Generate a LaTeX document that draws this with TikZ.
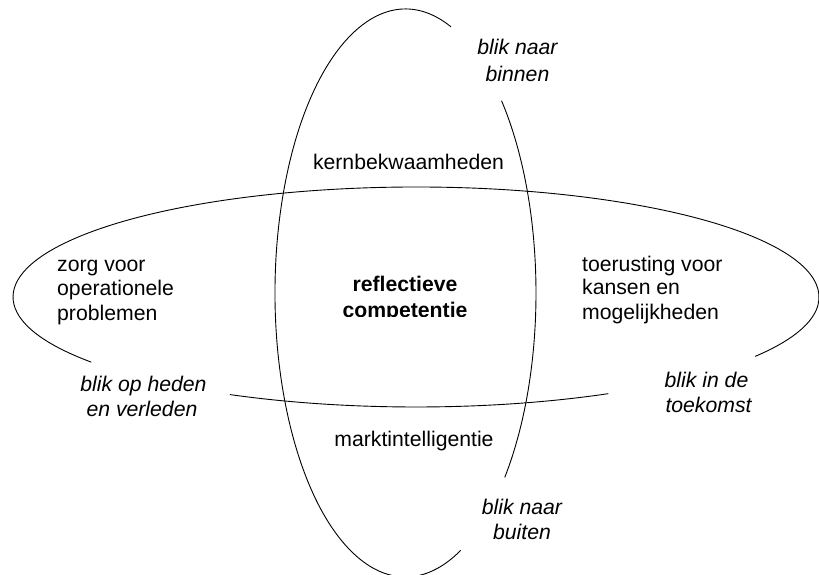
\documentclass[tikz,border=0pt]{standalone}
\usepackage{fontspec}
\setmainfont{Liberation Sans}
\begin{document}
\begin{tikzpicture}[x=1pt,y=1pt,
  lbl/.style={inner sep=0pt, font=\fontsize{21.2}{24.5}\selectfont, anchor=base},
  lblw/.style={lbl, anchor=base west},
  ital/.style={lbl, font=\fontsize{21.2}{24.5}\selectfont\itshape},
  boldlbl/.style={lbl, font=\fontsize{21.2}{24.5}\selectfont\bfseries},
  curve/.style={line width=0.9pt}]
\useasboundingbox (0,0) rectangle (819,575);
\clip (0,0) rectangle (819,575);
\coordinate (vc) at (405.5,282);
\coordinate (hc) at (416,278);
% vertical ellipse (with gaps for labels)
\draw[curve] ([shift={(69.6:130.5pt and 284pt)}]vc) arc[start angle=69.6, end angle=295, x radius=130.5pt, y radius=284pt];
\draw[curve] ([shift={(-40.5:130.5pt and 284pt)}]vc) arc[start angle=-40.5, end angle=42.6, x radius=130.5pt, y radius=284pt];
% horizontal ellipse (with gaps for labels)
\draw[curve] ([shift={(242.5:403pt and 110pt)}]hc) arc[start angle=242.5, end angle=298.5, x radius=403pt, y radius=110pt];
\draw[curve] ([shift={(327.3:403pt and 110pt)}]hc) arc[start angle=327.3, end angle=576.3, x radius=403pt, y radius=110pt];
% labels
\node[ital] (bin1) at (517.5,520) {blik naar};
\node[ital] (bin2) at (517.5,493.3) {binnen};
\node[lbl] (kern) at (408.5,405) {kernbekwaamheden};
\node[lblw] (zorg1) at (57,303.3) {zorg voor};
\node[lblw] (zorg2) at (57,279) {operationele};
\node[lblw] (zorg3) at (57,254.3) {problemen};
\node[lblw] (toer1) at (582,303.3) {toerusting voor};
\node[lblw] (toer2) at (582,280) {kansen en};
\node[lblw] (toer3) at (582,255) {mogelijkheden};
\begin{scope}
\clip (300,258.5) rectangle (510,330);
\node[boldlbl] (refl1) at (405,283) {reflectieve};
\node[boldlbl] (refl2) at (405,257.5) {competentie};
\end{scope}
\node[ital] (hed1) at (143.5,183.3) {blik op heden};
\node[ital] (hed2) at (142,158) {en verleden};
\node[ital] (toek1) at (706.5,187) {blik in de};
\node[ital] (toek2) at (708.5,162) {toekomst};
\node[lbl] (markt) at (414,128.3) {marktintelligentie};
\node[ital] (bui1) at (522,60) {blik naar};
\node[ital] (bui2) at (522,35) {buiten};
\end{tikzpicture}
\end{document}
